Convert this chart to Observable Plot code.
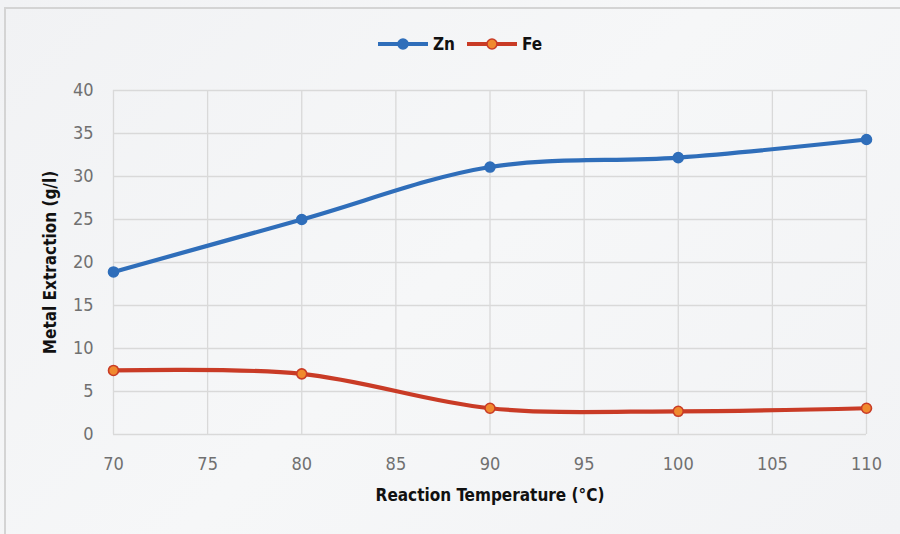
<!DOCTYPE html>
<html>
<head>
<meta charset="utf-8">
<script src="https://cdn.jsdelivr.net/npm/d3@7"></script>
<script src="https://cdn.jsdelivr.net/npm/@observablehq/plot@0.6"></script>
<style>
  html, body { margin: 0; padding: 0; background: #ffffff; }
  #wrap {
    position: relative; width: 900px; height: 534px; overflow: hidden;
    background: linear-gradient(135deg, #f1f2f4 0%, #f6f7f8 50%, #f2f3f5 100%);
  }
  #border {
    position: absolute; left: 4px; top: 7px; width: 900px; height: 540px;
    border-left: 2px solid #d4d4d4; border-top: 2px solid #d4d4d4; box-sizing: border-box;
  }
  #legend {
    position: absolute; top: 33px; left: 0; width: 900px; height: 24px;
    font-family: "Liberation Sans Narrow", "DejaVu Sans Condensed", "Open Sans", sans-serif;
    font-weight: bold; font-size: 17px; color: #111;
  }
  #legend .item { position: absolute; top: 0; display: flex; align-items: center; height: 22px; }
  #legend svg { margin-right: 4px; }
  #chart { position: absolute; left: 0; top: 0; }
</style>
</head>
<body>
<div id="wrap">
  <div id="border"></div>
  <div id="chart"></div>
  <div id="legend"></div>
</div>
<script>
// Data
const temps = [70, 80, 90, 100, 110];
const znValues = [18.9, 25.0, 31.1, 32.2, 34.3];
const feValues = [7.45, 7.05, 3.05, 2.7, 3.05];
const seriesNames = ["Zn", "Fe"];
const xTicks = [70, 75, 80, 85, 90, 95, 100, 105, 110];
const yTicks = [0, 5, 10, 15, 20, 25, 30, 35, 40];
const xLabel = "Reaction Temperature (°C)";
const yLabel = "Metal Extraction (g/l)";

const colors = { Zn: { line: "#2F6EBA", fill: "#2F6EBA" }, Fe: { line: "#C93B26", fill: "#F0892E" } };

const rows = [];
temps.forEach((t, i) => {
  rows.push({ series: "Zn", temp: t, value: znValues[i] });
  rows.push({ series: "Fe", temp: t, value: feValues[i] });
});

const tickFont = "'Liberation Sans Narrow', 'DejaVu Sans Condensed', 'Open Sans', sans-serif";

const chart = Plot.plot({
  width: 900,
  height: 534,
  marginLeft: 113,
  marginRight: 34,
  marginTop: 90,
  marginBottom: 100,
  style: { background: "transparent", fontFamily: tickFont, overflow: "visible" },
  x: { domain: [70, 110], ticks: xTicks },
  y: { domain: [0, 40], ticks: yTicks },
  marks: [
    Plot.gridX(xTicks, { stroke: "#d9d9d9", strokeOpacity: 1, strokeWidth: 1.3 }),
    Plot.gridY(yTicks, { stroke: "#d9d9d9", strokeOpacity: 1, strokeWidth: 1.3 }),
    Plot.axisX(xTicks, { tickSize: 0, tickPadding: 23, fontSize: 18, fill: "#707070", label: null }),
    Plot.axisY(yTicks, { tickSize: 0, tickPadding: 20, fontSize: 18, fill: "#707070", label: null }),
    ...seriesNames.map(s => Plot.line(rows.filter(d => d.series === s), {
      x: "temp", y: "value", stroke: colors[s].line, strokeWidth: 4.2, curve: "catmull-rom"
    })),
    ...seriesNames.map(s => Plot.dot(rows.filter(d => d.series === s), {
      x: "temp", y: "value", r: 5, fill: colors[s].fill, stroke: colors[s].line, strokeWidth: 1.6
    })),
    Plot.text([xLabel], {
      frameAnchor: "bottom", dy: 66, textAnchor: "middle", text: d => d, fontSize: 17, fontWeight: "bold", fill: "#111"
    }),
    Plot.text([yLabel], {
      frameAnchor: "left", dx: -63, rotate: -90, textAnchor: "middle", text: d => d, fontSize: 17, fontWeight: "bold", fill: "#111"
    })
  ]
});
document.getElementById("chart").appendChild(chart);

// Legend
const legend = document.getElementById("legend");
const legendPos = { Zn: 377, Fe: 466 };
seriesNames.forEach(s => {
  const item = document.createElement("div");
  item.className = "item";
  item.style.left = legendPos[s] + "px";
  item.innerHTML = `<svg width="52" height="14"><line x1="1" y1="7" x2="51" y2="7" stroke="${colors[s].line}" stroke-width="4"/><circle cx="26" cy="7" r="5" fill="${colors[s].fill}" stroke="${colors[s].line}" stroke-width="1.6"/></svg><span>${s}</span>`;
  legend.appendChild(item);
});
</script>
</body>
</html>
